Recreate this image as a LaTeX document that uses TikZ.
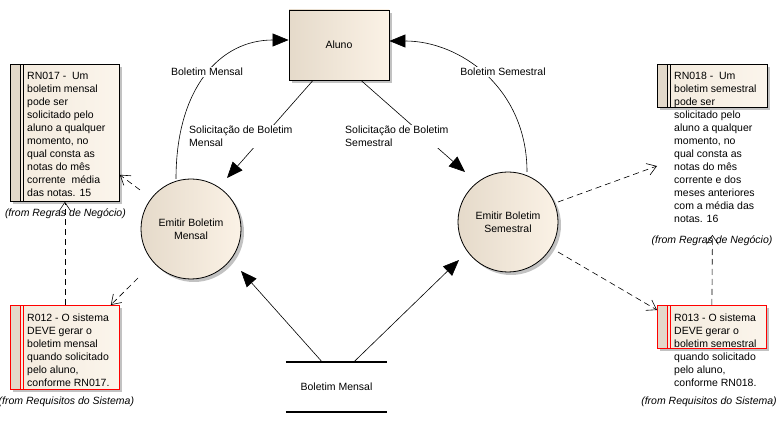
\documentclass[tikz,border=0pt]{standalone}
\usepackage{fontspec}
\setmainfont{Liberation Sans}
\usetikzlibrary{arrows.meta,shadows,calc}
\definecolor{tanL}{HTML}{E5DACA}
\definecolor{tanR}{HTML}{FBF2E6}
\definecolor{noteL}{HTML}{F3EADD}
\definecolor{noteR}{HTML}{FBF5EC}
\definecolor{stripc}{HTML}{E3D9CA}
\definecolor{shad}{HTML}{C2C2C2}
\begin{document}
\begin{tikzpicture}[x=1pt,y=1pt,
  every node/.style={font=\fontsize{10.5}{13}\selectfont, inner sep=0pt},
  shadowed/.style={drop shadow={shadow xshift=3pt,shadow yshift=-3pt,fill=shad,opacity=1}},
  entity/.style={draw=black, line width=0.8pt, left color=tanL, middle color=tanR, right color=tanR, shadowed},
  process/.style={entity, circle, minimum size=100pt, align=center},
  notebox/.style={draw=#1, line width=0.8pt, rectangle, left color=noteL, right color=noteR, shadowed,
    path picture={
      \fill[stripc] (path picture bounding box.north west) rectangle ([xshift=10pt]path picture bounding box.south west);
      \draw[#1, line width=0.8pt] ([xshift=10pt]path picture bounding box.north west) -- ([xshift=10pt]path picture bounding box.south west);
      \draw[#1, line width=0.8pt] ([xshift=12.5pt]path picture bounding box.north west) -- ([xshift=12.5pt]path picture bounding box.south west);
    }},
  notetext/.style={align=left, anchor=north west},
  fromlabel/.style={font=\itshape\fontsize{10.5}{13}\selectfont},
  flow/.style={-{Triangle[length=16pt,width=13pt]}, line width=0.6pt},
  dep/.style={dash pattern=on 6pt off 4pt, -{Straight Barb[length=9pt,width=12pt]}, line width=0.6pt},
  flowlabel/.style={fill=white, inner sep=1pt},
  storeline/.style={line width=1.6pt}
]
\useasboundingbox (0,0) rectangle (777,-435);

% main elements
\node[entity, minimum width=100pt, minimum height=70pt] (aluno) at (339,-45) {Aluno};
\node[process] (emm) at (191,-229) {Emitir Boletim\\Mensal};
\node[process] (ems) at (508,-222) {Emitir Boletim\\Semestral};
\node[minimum width=101pt, minimum height=50pt] (store) at (336.5,-387) {Boletim Mensal};
\draw[storeline] (store.north west) -- (store.north east);
\draw[storeline] (store.south west) -- (store.south east);

% notes
\node[notebox=black, minimum width=109pt, minimum height=137pt, anchor=north west] (rn17) at (10,-64) {};
\node[notetext] (rn17t) at ($(rn17.north west)+(17,-8)$) {RN017 -~~Um\\boletim mensal\\pode ser\\solicitado pelo\\aluno a qualquer\\momento, no\\qual consta as\\notas do mês\\corrente~~média\\das notas. 15};
\node[fromlabel] (rn17f) at ($(rn17.south)+(0.5,-12)$) {(from Regras de Negócio)};

\node[notebox=red, minimum width=109pt, minimum height=84pt, anchor=north west] (r12) at (10,-305) {};
\node[notetext] (r12t) at ($(r12.north west)+(17,-8.5)$) {R012 - O sistema\\DEVE gerar o\\boletim mensal\\quando solicitado\\pelo aluno,\\conforme RN017.};
\node[fromlabel] (r12f) at ($(r12.south)+(1.5,-12)$) {(from Requisitos do Sistema)};

\node[notebox=black, minimum width=110pt, minimum height=43pt, anchor=north west] (rn18) at (657,-64) {};
\node[notetext] (rn18t) at ($(rn18.north west)+(17,-8)$) {RN018 -~~Um\\boletim semestral\\pode ser\\solicitado pelo\\aluno a qualquer\\momento, no\\qual consta as\\notas do mês\\corrente e dos\\meses anteriores\\com a média das\\notas. 16};
\node[fromlabel] (rn18f) at (712,-240.5) {(from Regras de Negócio)};

\node[notebox=red, minimum width=109pt, minimum height=43pt, anchor=north west] (r13) at (657,-305) {};
\node[notetext] (r13t) at ($(r13.north west)+(17,-8.5)$) {R013 - O sistema\\DEVE gerar o\\boletim semestral\\quando solicitado\\pelo aluno,\\conforme RN018.};
\node[fromlabel] (r13f) at (709,-402) {(from Requisitos do Sistema)};

% data flows
\draw[flow] ($(aluno.south)+(-26,0)$) -- ($(emm.center)+(36,51)$);
\draw[flow] ($(aluno.south)+(22,0)$) -- ($(ems.center)+(-43,50)$);
\draw[flow] ($(store.north)+(-14.5,0)$) -- ($(emm.center)+(50,-42)$);
\draw[flow] ($(store.north)+(17.5,0)$) -- ($(ems.center)+(-49,-38)$);
\draw[flow] ($(emm.center)+(-15,50)$) .. controls (176,-88) and (220,-40) .. ($(aluno.west)+(0,5)$);
\draw[flow] ($(ems.center)+(19,50)$) .. controls (527,-88) and (460,-41) .. ($(aluno.east)+(0,4)$);

% flow labels
\node[flowlabel] (lbm) at (207,-72) {Boletim Mensal};
\node[flowlabel] (lbs) at (503,-72) {Boletim Semestral};
\node[flowlabel, align=left, anchor=north west] (lsm) at (188,-125) {Solicitação de Boletim\\Mensal};
\node[flowlabel, align=left, anchor=north west] (lss) at (344,-125) {Solicitação de Boletim\\Semestral};

% dependencies
\draw[dep] ($(emm.center)+(-51,39)$) -- ($(rn17.south east)+(0,27)$);
\draw[dep] (r12.north) -- (rn17.south);
\draw[dep] ($(emm.center)+(-53,-49)$) -- ($(r12.north east)+(-9,0)$);
\draw[dep] ($(ems.center)+(50,20)$) -- ($(rn18.north west)+(0,-102)$);
\draw[dep] ($(ems.center)+(50,-30)$) -- ($(r13.north west)+(0,-5)$);
\draw[dep] (r13.north) -- ($(rn18.south)+(0,-127)$);
\end{tikzpicture}
\end{document}
